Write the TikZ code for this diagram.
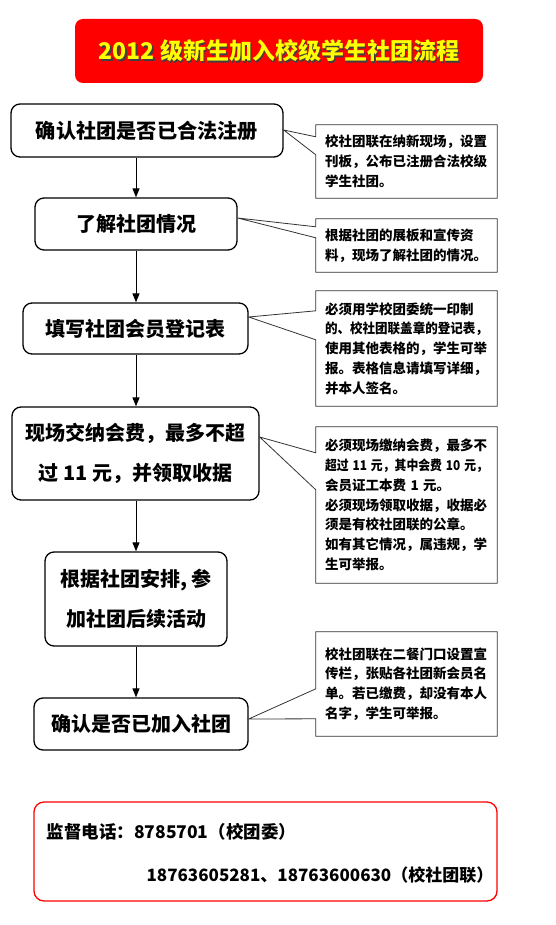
\documentclass[tikz,border=0pt]{standalone}
\usepackage{fontspec}
\usepackage{graphicx}
\setmainfont{Noto Sans CJK SC}
\usetikzlibrary{arrows.meta,calc}
\definecolor{titlered}{RGB}{255,0,0}
\definecolor{titleyellow}{RGB}{255,255,0}
\newcommand{\fitline}[1]{\resizebox{163pt}{\height}{#1}}
\begin{document}
\begin{tikzpicture}[x=1pt,y=-1pt,
  flow/.style={draw=black,line width=1.3pt,rounded corners=9pt,align=center,
    font=\fontsize{20}{40}\selectfont\bfseries,inner sep=0pt},
  note/.style={inner xsep=9pt,inner ysep=0pt,text width=163pt,align=left,
    font=\fontsize{13.5}{19.8}\selectfont\bfseries},
  noteline/.style={draw=black!80,line width=0.8pt,line join=miter},
  arr/.style={-{Triangle[length=9pt,width=7pt]},line width=0.9pt}
]
\useasboundingbox (0,0) rectangle (556,925);

% title
\node[fill=titlered,rounded corners=8pt,minimum width=408pt,minimum height=64pt,inner sep=0pt] (title) at (279,51) {};
\node[text=black!75,font=\fontsize{23}{23}\selectfont\bfseries] (titleshadow) at ($(title)+(1.3,1.3)$) {2012 级新生加入校级学生社团流程};
\node[text=titleyellow,font=\fontsize{23}{23}\selectfont\bfseries] (titletext) at (title) {2012 级新生加入校级学生社团流程};

% flow boxes
\node[flow,minimum width=272pt,minimum height=53pt,font=\fontsize{20.2}{40}\selectfont\bfseries] (b1) at (147,130.5) {确认社团是否已合法注册};
\node[flow,minimum width=202pt,minimum height=52pt] (b2) at (136,224) {了解社团情况};
\node[flow,minimum width=225pt,minimum height=51pt] (b3) at (135.5,328.5) {填写社团会员登记表};
\node[flow,minimum width=247pt,minimum height=93pt] (b4) at (135.5,453.5) {现场交纳会费，最多不超\\过 11 元，并领取收据};
\node[flow,minimum width=182pt,minimum height=94pt] (b5) at (136,599) {根据社团安排, 参\\加社团后续活动};
\node[flow,minimum width=214pt,minimum height=52pt] (b6) at (141,724) {确认是否已加入社团};

% arrows
\draw[arr] (b1.south -| b2.north) -- (b2.north);
\draw[arr] (b2.south) -- (b2.south |- b3.north);
\draw[arr] (b2.south |- b3.south) -- (b2.south |- b4.north);
\draw[arr] (b2.south |- b4.south) -- (b2.south |- b5.north);
\draw[arr] (b2.south |- b5.south) -- (b2.south |- b6.north);

% notes
\node[note,minimum height=73pt] (c1) at (406.5,161.5) {校社团联在纳新现场，设置\\刊板，公布已注册合法校级\\学生社团。};
\node[note,minimum height=53pt] (c2) at (406.5,245.5) {根据社团的展板和宣传资\\料，现场了解社团的情况。};
\node[note,minimum height=115pt] (c3) at (406.5,348.5) {必须用学校团委统一印制\\\fitline{的、校社团联盖章的登记表，}\\使用其他表格的，学生可举\\报。表格信息请填写详细，\\并本人签名。};
\node[note,minimum height=156pt] (c4) at (406.5,505) {必须现场缴纳会费，最多不\\\fitline{超过 11 元，其中会费 10 元，}\\会员证工本费 1 元。\\必须现场领取收据，收据必\\须是有校社团联的公章。\\如有其它情况，属违规，学\\生可举报。};
\node[note,minimum height=104pt] (c6) at (406.5,684) {校社团联在二餐门口设置宣\\传栏，张贴各社团新会员名\\单。若已缴费，却没有本人\\名字，学生可举报。};

% note outlines with pointers
\draw[noteline] (c1.north west) -- (c1.north east) -- (c1.south east) -- (c1.south west)
  -- ($(c1.north west)+(0,30)$) -- ($(b1.east)+(0,-0.5)$) -- ($(c1.north west)+(0,12)$) -- cycle;
\draw[noteline] (c2.north west) -- (c2.north east) -- (c2.south east) -- (c2.south west)
  -- ($(c2.north west)+(0,19)$) -- ($(b2.east)+(0,-6)$) -- ($(c2.north west)+(0,8)$) -- cycle;
\draw[noteline] (c3.north west) -- (c3.north east) -- (c3.south east) -- (c3.south west)
  -- ($(c3.north west)+(0,49)$) -- ($(b3.east)+(0,-11.5)$) -- ($(c3.north west)+(0,20)$) -- cycle;
\draw[noteline] (c4.north west) -- (c4.north east) -- (c4.south east) -- (c4.south west)
  -- ($(c4.north west)+(0,63)$) -- ($(b4.east)+(0,-16.5)$) -- ($(c4.north west)+(0,26)$) -- cycle;
\draw[noteline] (c6.north west) -- (c6.north east) -- (c6.south east) -- (c6.south west)
  -- ($(c6.north west)+(0,87)$) -- ($(b6.east)+(0,-5)$) -- ($(c6.north west)+(0,57)$) -- cycle;

% supervision box
\node[draw=titlered,line width=1.3pt,rounded corners=10pt,minimum width=463pt,minimum height=99pt,inner sep=0pt] (supbox) at (265.5,851.5) {};
\node[anchor=west,inner sep=0pt,font=\fontsize{17.5}{20}\selectfont\bfseries] (phone1) at ($(supbox.west)+(13,-19.5)$) {监督电话：8785701（校团委）};
\node[anchor=west,inner sep=0pt,font=\fontsize{17}{20}\selectfont\bfseries] (phone2) at ($(supbox.west)+(113,23.5)$) {18763605281、18763600630（校社团联）};
\end{tikzpicture}
\end{document}
